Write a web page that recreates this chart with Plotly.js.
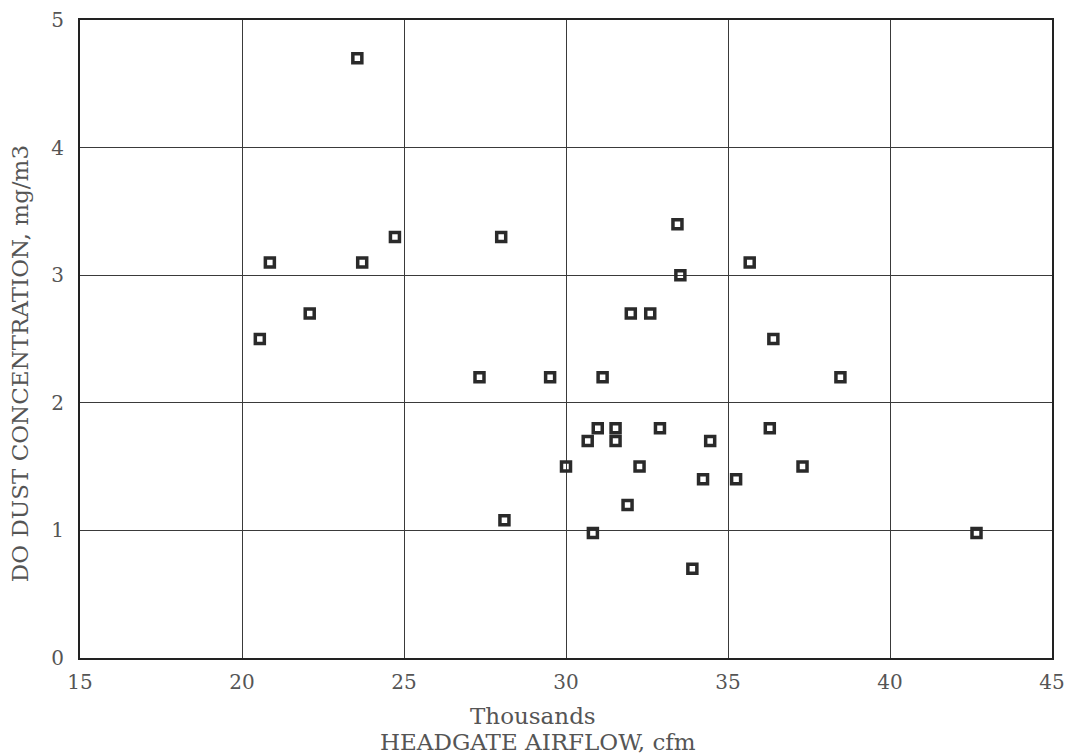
<!DOCTYPE html>
<html>
<head>
<meta charset="utf-8">
<script src="https://cdn.plot.ly/plotly-3.0.1.min.js"></script>
<style>html,body{margin:0;padding:0;background:#fff;}#chart{width:1067px;height:755px;}</style>
</head>
<body>
<div id="chart"></div>
<script>
// Headgate airflow (thousands cfm)
const airflow = [23.56, 20.86, 20.55, 22.09, 23.71, 24.72, 28.0, 27.33, 29.51, 31.13,
                 28.1, 30.0, 30.83, 30.67, 30.98, 31.53, 31.53, 32.0, 32.6, 33.44,
                 33.53, 32.9, 32.27, 31.9, 33.9, 34.23, 34.45, 35.25, 35.67, 36.4,
                 36.29, 37.3, 38.47, 42.67];
// DO dust concentration (mg/m3)
const dust = [4.7, 3.1, 2.5, 2.7, 3.1, 3.3, 3.3, 2.2, 2.2, 2.2,
              1.08, 1.5, 0.98, 1.7, 1.8, 1.8, 1.7, 2.7, 2.7, 3.4,
              3.0, 1.8, 1.5, 1.2, 0.7, 1.4, 1.7, 1.4, 3.1, 2.5,
              1.8, 1.5, 2.2, 0.98];
const xTicks = [15, 20, 25, 30, 35, 40, 45];
const yTicks = [0, 1, 2, 3, 4, 5];

const serif = "DejaVu Serif, Liberation Serif, serif";
const textGray = '#555';

const trace = {
  type: 'scatter', mode: 'markers',
  x: airflow, y: dust,
  marker: {symbol: 'square-open', size: 9, color: '#2a2a2a', line: {width: 3.5, color: '#2a2a2a'}},
  hoverinfo: 'x+y', showlegend: false
};

const layout = {
  width: 1067, height: 755,
  margin: {l: 80, r: 15, t: 20, b: 97},
  paper_bgcolor: '#fff', plot_bgcolor: '#fff',
  showlegend: false,
  xaxis: {
    range: [15, 45], tickvals: xTicks, ticktext: xTicks.map(String),
    showgrid: true, gridcolor: '#3a3a3a', gridwidth: 1,
    zeroline: false, showline: true, linecolor: '#222', linewidth: 2, mirror: true,
    ticks: '', ticklen: 0, ticklabelstandoff: 5, ticklabeloverflow: 'allow',
    tickfont: {family: serif, size: 20, color: textGray}
  },
  yaxis: {
    range: [0, 5], tickvals: yTicks, ticktext: yTicks.map(String),
    showgrid: true, gridcolor: '#3a3a3a', gridwidth: 1,
    zeroline: false, showline: true, linecolor: '#222', linewidth: 2, mirror: true,
    ticks: '', ticklen: 0, ticklabelstandoff: 10, ticklabeloverflow: 'allow',
    tickfont: {family: serif, size: 20, color: textGray}
  },
  annotations: [
    {text: 'Thousands', xref: 'paper', yref: 'paper', x: 0.466, y: -0.0915,
     xanchor: 'center', yanchor: 'middle', showarrow: false,
     font: {family: serif, size: 23, color: textGray}},
    {text: 'HEADGATE AIRFLOW, cfm', xref: 'paper', yref: 'paper', x: 0.471, y: -0.131,
     xanchor: 'center', yanchor: 'middle', showarrow: false,
     font: {family: serif, size: 23, color: textGray}},
    {text: 'DO DUST CONCENTRATION, mg/m3', xref: 'paper', yref: 'paper', x: -0.0618, y: 0.462,
     xanchor: 'center', yanchor: 'middle', textangle: -90, showarrow: false,
     font: {family: serif, size: 23, color: textGray}}
  ]
};

Plotly.newPlot('chart', [trace], layout, {displayModeBar: false, staticPlot: true});
</script>
</body>
</html>
